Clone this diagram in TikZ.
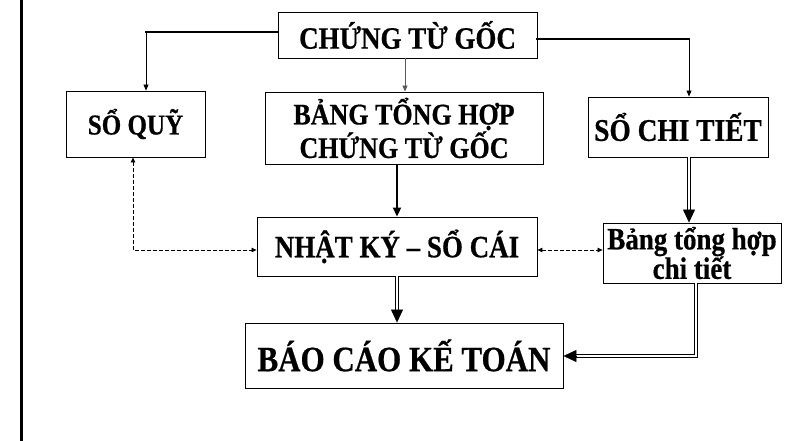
\documentclass[tikz,border=0pt]{standalone}
\usepackage{fontspec}
\setmainfont{Liberation Serif}[FakeStretch=0.87, BoldFeatures={FakeBold=0.6}]
\usetikzlibrary{arrows.meta,calc}
\begin{document}
\begin{tikzpicture}[x=1pt,y=-1pt,
  box/.style={draw=black, line width=0.9pt, inner sep=0pt, align=center},
  thk/.style={line width=2.2pt, line cap=rect},
  thn/.style={line width=0.8pt, -{Triangle[length=6pt,width=5pt]}},
  dsh/.style={line width=0.8pt, dash pattern=on 3.5pt off 2.5pt},
  dtips/.style={{Triangle[length=5pt,width=4.5pt]}-{Triangle[length=5pt,width=4.5pt]}},
  dbl/.style={draw=black, double=white, line width=1.4pt, double distance=1.1pt},
  bigtip/.style={line width=0.5pt, -{Triangle[length=13pt,width=12pt]}},
]
\useasboundingbox (0,0) rectangle (803,441);
\fill[white] (0,0) rectangle (803,441);
% left border line
\draw[line width=3pt] (21,0) -- (21,441);

% nodes
\node[box, minimum width=259pt, minimum height=46pt, font=\bfseries\fontsize{31}{32}\selectfont] (ctg) at (407.5,35) {CHỨNG TỪ GỐC};
\node[box, minimum width=139pt, minimum height=66pt, font=\bfseries\fontsize{28.8}{30}\selectfont] (sq) at (135.5,124) {SỔ QUỸ};
\node[box, minimum width=278pt, minimum height=72pt, font=\bfseries\fontsize{29.9}{27.5}\selectfont] (bth) at (404,128) {BẢNG TỔNG HỢP\\CHỨNG TỪ GỐC};
\node[box, minimum width=180pt, minimum height=60pt, font=\bfseries\fontsize{31.5}{32}\selectfont] (sct) at (678,127) {SỔ CHI TIẾT};
\node[box, minimum width=280pt, minimum height=59pt, font=\bfseries\fontsize{31}{32}\selectfont] (nksc) at (397,246.5) {NHẬT KÝ – SỔ CÁI};
\node[box, minimum width=178pt, minimum height=60pt, font=\bfseries\fontsize{31}{29.5}\selectfont] (bthct) at (692,253) {Bảng tổng hợp\\chi tiết};
\node[box, minimum width=318pt, minimum height=65pt, font=\bfseries\fontsize{35.6}{37}\selectfont] (bckt) at (404,355.5) {BÁO CÁO KẾ TOÁN};

% bend / column coordinates
\coordinate (k1) at (146,32);
\coordinate (k2) at (405,0);
\coordinate (k3) at (689,39);
\coordinate (km) at (397,0);
\coordinate (k6) at (133,250);
\coordinate (k9) at (696,356);

% CTG -> SO QUY
\draw[thk] (ctg.west |- k1) -- (k1);
\draw[thn] (k1) -- (sq.north -| k1);
% CTG -> BTH
\draw[thn, draw=black!65, fill=black!65] (ctg.south -| k2) -- (bth.north -| k2);
% CTG -> SCT
\draw[thk] (ctg.east |- k3) -- (k3);
\draw[thn] (k3) -- (sct.north -| k3);

% BTH -> NKSC
\draw[line width=2pt, -{Triangle[length=9pt,width=8pt]}] (bth.south -| km) -- (nksc.north -| km);

% SCT -> BTHCT (double)
\draw[dbl, shorten >=12pt] (sct.south -| k3) -- (bthct.north -| k3);
\draw[bigtip] ($(bthct.north -| k3)+(0,-13)$) -- (bthct.north -| k3);

% NKSC -> BCKT (double)
\draw[dbl, shorten >=12pt] (nksc.south -| km) -- (bckt.north -| km);
\draw[bigtip] ($(bckt.north -| km)+(0,-13)$) -- (bckt.north -| km);

% BTHCT -> BCKT (double)
\draw[dbl, shorten >=12pt] (bthct.south -| k9) |- (bckt.east |- k9);
\draw[bigtip] ($(bckt.east |- k9)+(13,0)$) -- (bckt.east |- k9);

% dashed links
\draw[dsh, dtips] (sq.south -| k6) |- (nksc.west |- k6);
\draw[dsh, dtips] (nksc.east |- k6) -- (bthct.west |- k6);
\end{tikzpicture}
\end{document}
